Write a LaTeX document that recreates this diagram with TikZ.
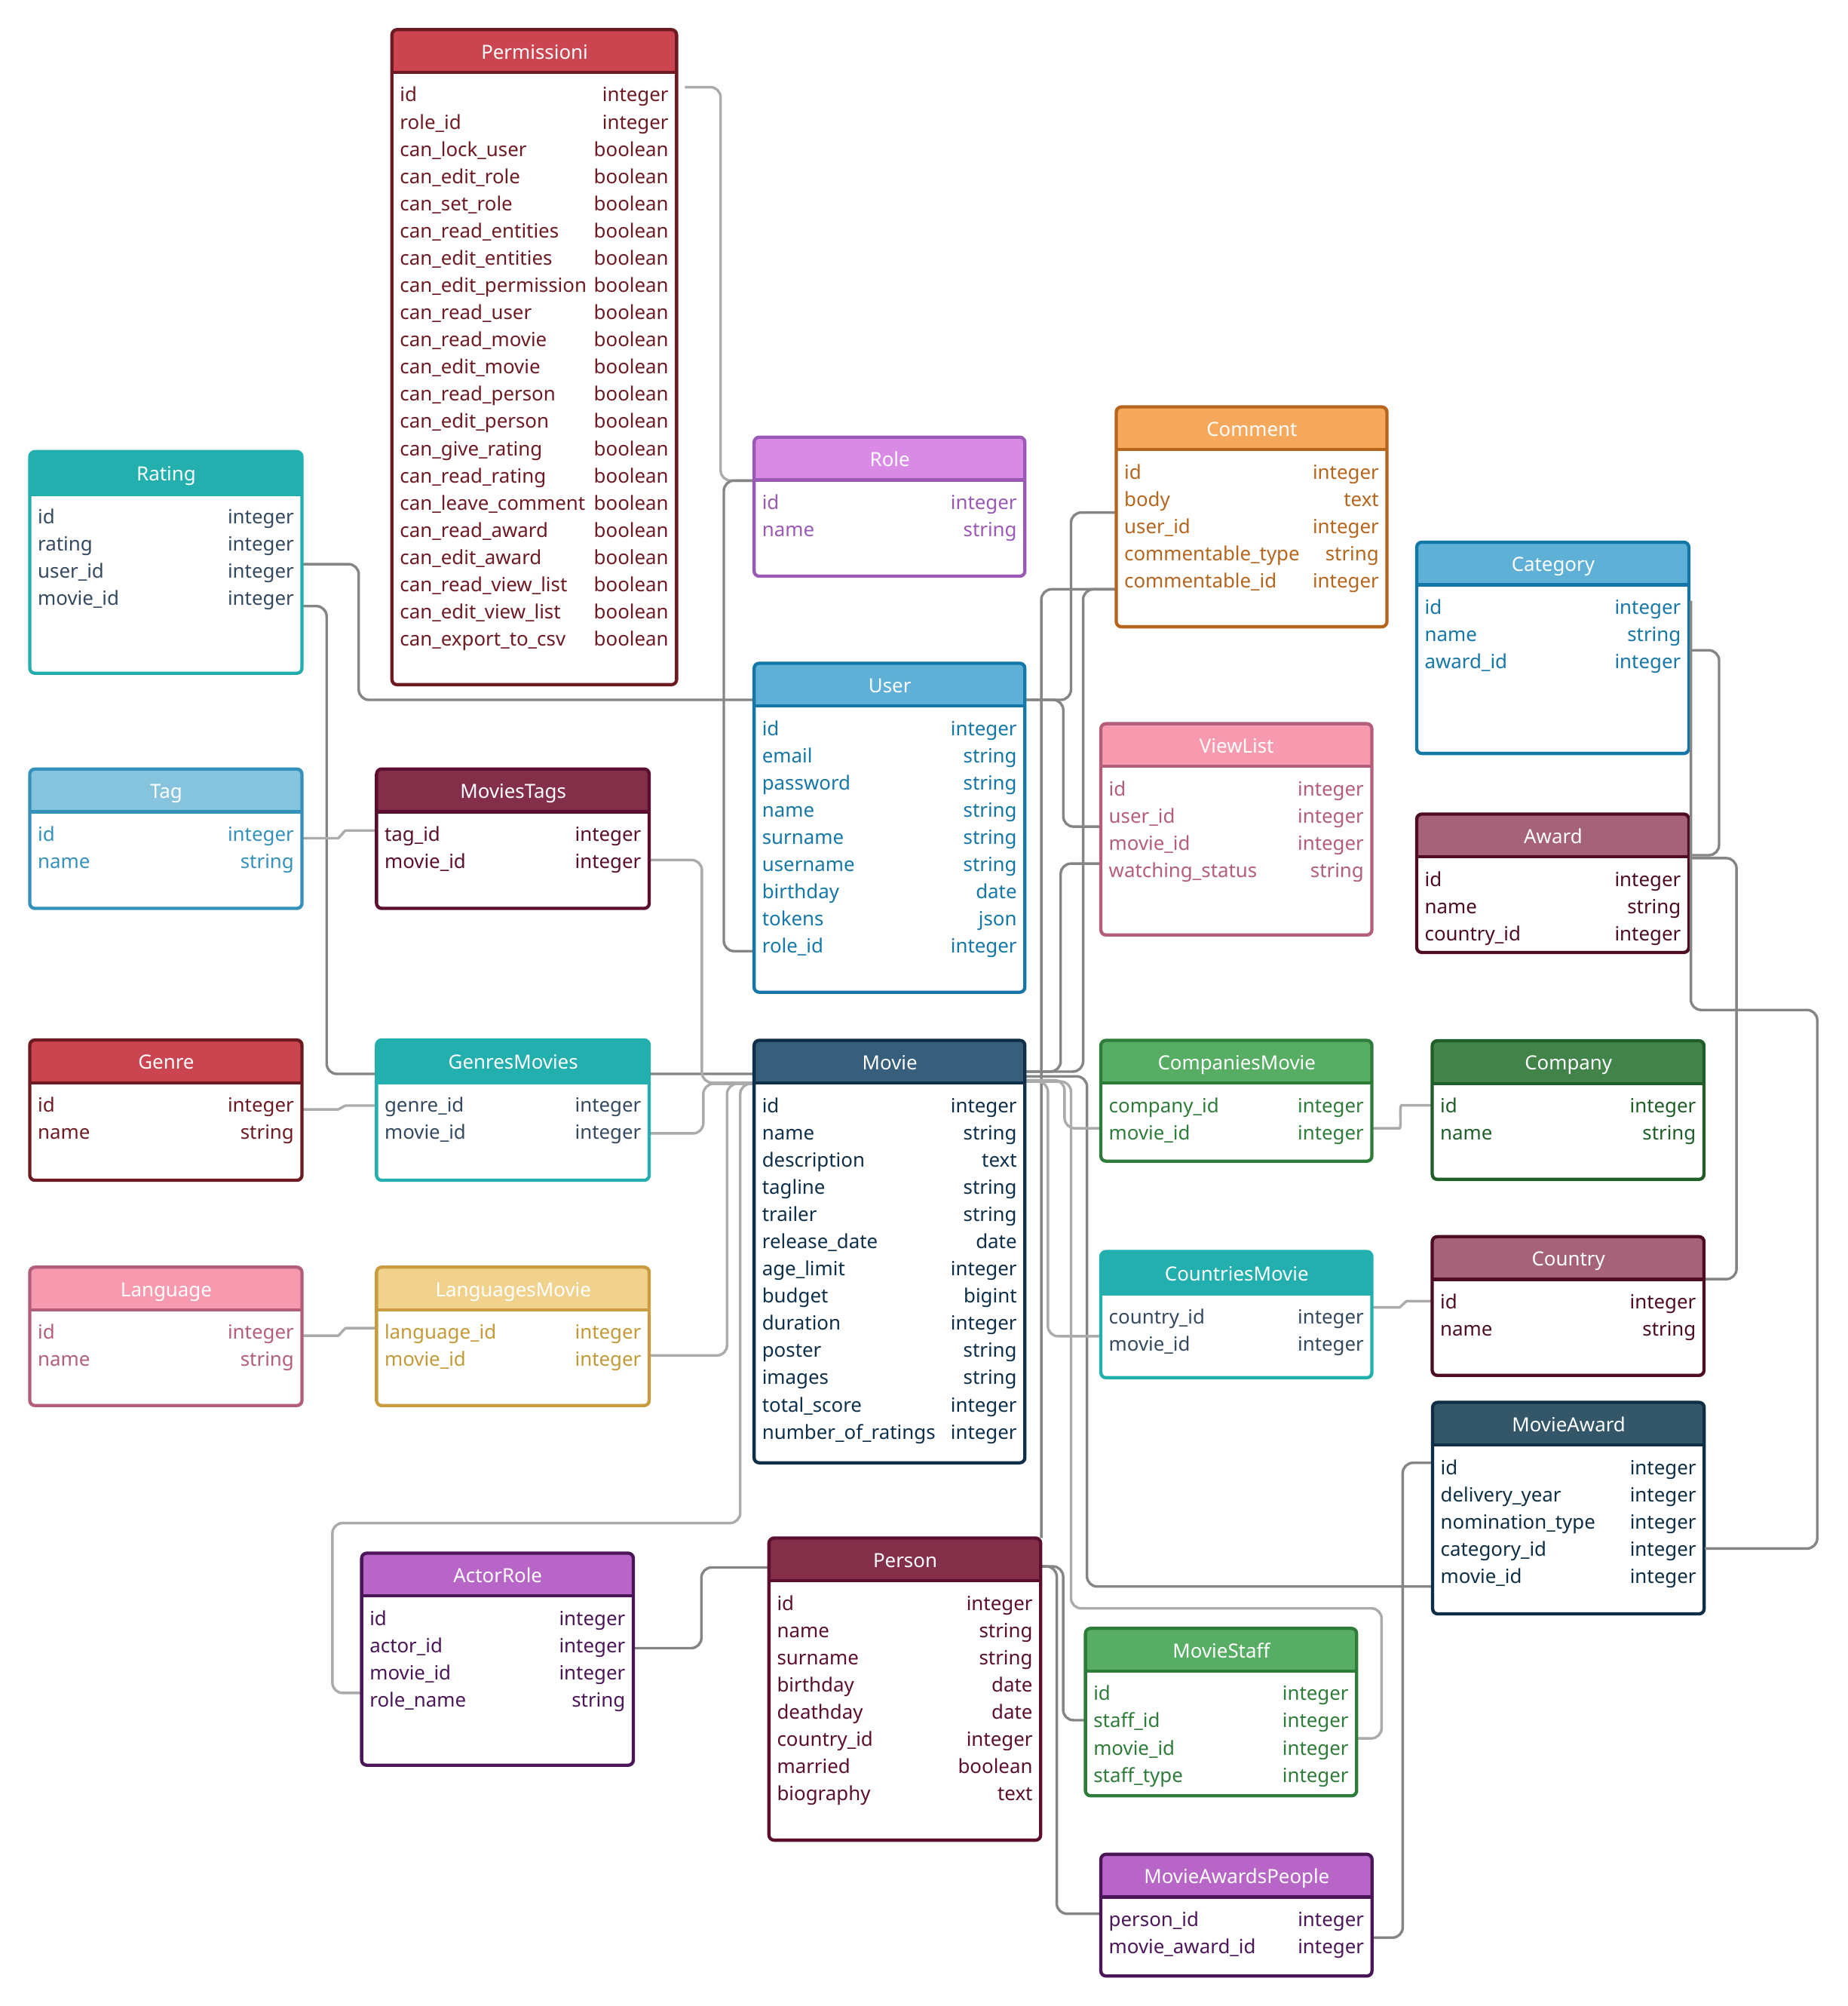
\documentclass[tikz,border=0pt]{standalone}
\usepackage{fontspec}
\setmainfont{Noto Sans}
\usetikzlibrary{calc,backgrounds}
% colour sets: h = header, b = border, t = text
\definecolor{redh}{HTML}{CB4551}\definecolor{redb}{HTML}{6E1A23}\definecolor{redt}{HTML}{6E1A23}
\definecolor{tealh}{HTML}{23AFAE}\definecolor{tealb}{HTML}{23AFAE}\definecolor{tealt}{HTML}{34495E}
\definecolor{purpleh}{HTML}{D98AE5}\definecolor{purpleb}{HTML}{9B59B6}\definecolor{purplet}{HTML}{9B59B6}
\definecolor{orangeh}{HTML}{F6A85C}\definecolor{orangeb}{HTML}{B5651D}\definecolor{oranget}{HTML}{B5651D}
\definecolor{blueh}{HTML}{5EB0D6}\definecolor{blueb}{HTML}{1577A8}\definecolor{bluet}{HTML}{1577A8}
\definecolor{lblueh}{HTML}{86C3DC}\definecolor{lblueb}{HTML}{3391BC}\definecolor{lbluet}{HTML}{3391BC}
\definecolor{pinkh}{HTML}{F79AB0}\definecolor{pinkb}{HTML}{B55E79}\definecolor{pinkt}{HTML}{B55E79}
\definecolor{maroonh}{HTML}{842F49}\definecolor{maroonb}{HTML}{5B0E2D}\definecolor{maroont}{HTML}{5B0E2D}
\definecolor{mauveh}{HTML}{A56278}\definecolor{mauveb}{HTML}{4D0C22}\definecolor{mauvet}{HTML}{4D0C22}
\definecolor{navyh}{HTML}{375F7B}\definecolor{navyb}{HTML}{0D2F4A}\definecolor{navyt}{HTML}{0D2F4A}
\definecolor{greenh}{HTML}{57AD64}\definecolor{greenb}{HTML}{2E7C39}\definecolor{greent}{HTML}{2E7C39}
\definecolor{dgreenh}{HTML}{42834A}\definecolor{dgreenb}{HTML}{1F5E28}\definecolor{dgreent}{HTML}{1F5E28}
\definecolor{yellowh}{HTML}{F0D28D}\definecolor{yellowb}{HTML}{C99C3F}\definecolor{yellowt}{HTML}{C39A37}
\definecolor{slateh}{HTML}{335668}\definecolor{slateb}{HTML}{0D2E44}\definecolor{slatet}{HTML}{0D2E44}
\definecolor{violeth}{HTML}{B865C8}\definecolor{violetb}{HTML}{4A1657}\definecolor{violett}{HTML}{4A1657}
\definecolor{connD}{HTML}{858585}
\definecolor{connL}{HTML}{ABABAB}
\newcommand{\tfont}{\fontsize{11.4pt}{13.7pt}\selectfont}
% #1 name, #2 x, #3 y, #4 width, #5 height, #6 colour set, #7 title, #8 rows
\newcommand{\erdtable}[8]{%
  \pgfmathsetmacro\erdmw{#4*0.75}%
  \pgfmathsetmacro\erdmh{#5*0.75}%
  \pgfmathsetmacro\erdtw{(#4-12)*0.75}%
  \fill[white,rounded corners=3pt] (#2,#3) rectangle ++(#4,#5);
  \fill[#6h,rounded corners=3pt] (#2,#3) rectangle ++(#4,33.3);
  \fill[#6h] (#2,{#3+16}) rectangle ++(#4,17.3);
  \draw[#6b,line width=1.9pt] (#2,{#3+33.3}) -- ++(#4,0);
  \draw[#6b,line width=1.9pt,rounded corners=3pt] (#2,#3) rectangle ++(#4,#5);
  \node[tbox,minimum width=\erdmw pt,minimum height=\erdmh pt] (#1) at (#2,#3) {};
  \node[thead,minimum width=\erdmw pt] (#1-h) at (#2,#3) {#7};
  \foreach \fld/\typ [count=\i from 0] in {#8}{%
    \node[trow,text=#6t,text width=\erdtw pt] (#1-\fld) at (#2,{#3+50.3+21.2*\i}) {\fld};
    \node[ttype,text=#6t] (#1-\fld-t) at ({#2+#4},{#3+50.3+21.2*\i}) {\typ};
  }%
}
\begin{document}
\catcode`\_=12
\begin{tikzpicture}[x=0.75pt,y=-0.75pt,
  tbox/.style={anchor=north west,inner sep=0pt,draw=none},
  thead/.style={anchor=north west,inner sep=0pt,minimum height=24.975pt,text=white,font=\tfont,text height=9.9pt,text depth=1.1pt},
  trow/.style={anchor=west,inner xsep=4.5pt,inner ysep=0pt,align=left,font=\tfont,text height=9.9pt,text depth=1.1pt},
  ttype/.style={anchor=east,inner xsep=4.5pt,inner ysep=0pt,font=\tfont,text height=9.9pt,text depth=1.1pt},
  dconn/.style={draw=connD,line width=1.5pt,rounded corners=6pt},
  lconn/.style={draw=connL,line width=1.5pt,rounded corners=6pt}]
\useasboundingbox (0,0) rectangle (1440,1562.8);

\erdtable{perm}{305.4}{23.1}{221.8}{510.3}{red}{Permissioni}{id/integer,role_id/integer,can_lock_user/boolean,can_edit_role/boolean,can_set_role/boolean,can_read_entities/boolean,can_edit_entities/boolean,can_edit_permission/boolean,can_read_user/boolean,can_read_movie/boolean,can_edit_movie/boolean,can_read_person/boolean,can_edit_person/boolean,can_give_rating/boolean,can_read_rating/boolean,can_leave_comment/boolean,can_read_award/boolean,can_edit_award/boolean,can_read_view_list/boolean,can_edit_view_list/boolean,can_export_to_csv/boolean}
\erdtable{rating}{23.2}{351.8}{212.1}{172.7}{teal}{Rating}{id/integer,rating/integer,user_id/integer,movie_id/integer}
\erdtable{role}{587.6}{340.6}{211}{108.3}{purple}{Role}{id/integer,name/string}
\erdtable{comment}{869.8}{317}{210.9}{171.3}{orange}{Comment}{id/integer,body/text,user_id/integer,commentable_type/string,commentable_id/integer}
\erdtable{user}{587.6}{516.7}{211}{256.3}{blue}{User}{id/integer,email/string,password/string,name/string,surname/string,username/string,birthday/date,tokens/json,role_id/integer}
\erdtable{category}{1103.9}{422.4}{212.1}{164.6}{blue}{Category}{id/integer,name/string,award_id/integer}
\erdtable{viewlist}{857.8}{563.8}{211.2}{164.6}{pink}{ViewList}{id/integer,user_id/integer,movie_id/integer,watching_status/string}
\erdtable{tag}{23.2}{599.1}{212.1}{108.6}{lblue}{Tag}{id/integer,name/string}
\erdtable{moviestags}{293.4}{599.1}{212.5}{108.6}{maroon}{MoviesTags}{tag_id/integer,movie_id/integer}
\erdtable{award}{1103.9}{634.2}{212.1}{107.8}{mauve}{Award}{id/integer,name/string,country_id/integer}
\erdtable{genre}{23.2}{810.2}{212.1}{109.3}{red}{Genre}{id/integer,name/string}
\erdtable{genresmovies}{293.4}{810.2}{212.5}{109.3}{teal}{GenresMovies}{genre_id/integer,movie_id/integer}
\erdtable{movie}{587.6}{810.5}{211}{329.1}{navy}{Movie}{id/integer,name/string,description/text,tagline/string,trailer/string,release_date/date,age_limit/integer,budget/bigint,duration/integer,poster/string,images/string,total_score/integer,number_of_ratings/integer}
\erdtable{companiesmovie}{857.8}{810.5}{211.2}{94.1}{green}{CompaniesMovie}{company_id/integer,movie_id/integer}
\erdtable{company}{1116}{810.8}{211.8}{108}{dgreen}{Company}{id/integer,name/string}
\erdtable{countriesmovie}{857.8}{975}{211.2}{98.3}{teal}{CountriesMovie}{country_id/integer,movie_id/integer}
\erdtable{country}{1116}{963.4}{211.8}{108.1}{mauve}{Country}{id/integer,name/string}
\erdtable{language}{23.2}{987.2}{212.1}{107.8}{pink}{Language}{id/integer,name/string}
\erdtable{languagesmovie}{293.4}{987.2}{212.5}{107.8}{yellow}{LanguagesMovie}{language_id/integer,movie_id/integer}
\erdtable{movieaward}{1116.3}{1092.5}{211.6}{164.8}{slate}{MovieAward}{id/integer,delivery_year/integer,nomination_type/integer,category_id/integer,movie_id/integer}
\erdtable{actorrole}{281.8}{1210}{211.7}{165.2}{violet}{ActorRole}{id/integer,actor_id/integer,movie_id/integer,role_name/string}
\erdtable{person}{599.2}{1198.2}{211.7}{235.4}{maroon}{Person}{id/integer,name/string,surname/string,birthday/date,deathday/date,country_id/integer,married/boolean,biography/text}
\erdtable{moviestaff}{845.8}{1268.6}{211.3}{130.4}{green}{MovieStaff}{id/integer,staff_id/integer,movie_id/integer,staff_type/integer}
\erdtable{map}{857.8}{1444.6}{211.3}{94.8}{violet}{MovieAwardsPeople}{person_id/integer,movie_award_id/integer}

\begin{pgfonlayer}{background}
\fill[white] (0,0) rectangle (1440,1562.8);
\draw[lconn] ($(perm-id.east)+(6,-5.5)$) -- ++(27.8,0) |- (role-h.south west);
\draw[dconn] ($(user-role_id.west)+(0,4.4)$) -- ++(-23.6,0) |- (role-h.south west);
\draw[dconn] ($(rating-user_id.east)+(0,-5)$) -- ++(43.7,0) |- ($(user-h.south west)+(0,-5.3)$);
\draw[dconn] ($(rating-movie_id.east)+(0,6.5)$) -- ++(18.7,0) |- ($(movie-h.south west)+(0,-7.7)$);
\draw[lconn] ($(tag-id.east)+(0,3.6)$) -- ++(19.5,0) to[out=0,in=180] ($(moviestags-tag_id.west)+(-16,-2.4)$) -- ($(moviestags-tag_id.west)+(0,-2.4)$);
\draw[lconn] ($(moviestags-movie_id.east)+(0,-0.6)$) -- ++(40.5,0) |- ($(movie-h.south west)+(0,-0.8)$);
\draw[lconn] ($(genre-id.east)+(0,3.8)$) -- ++(19.5,0) to[out=0,in=180] ($(genresmovies-genre_id.west)+(-16,0.8)$) -- ($(genresmovies-genre_id.west)+(0,0.8)$);
\draw[lconn] ($(genresmovies-movie_id.east)+(0,1.3)$) -- ++(41.6,0) |- (movie-h.south west);
\draw[lconn] ($(language-id.east)+(0,3.1)$) -- ++(19.5,0) to[out=0,in=180] ($(languagesmovie-language_id.west)+(-16,-2.8)$) -- ($(languagesmovie-language_id.west)+(0,-2.8)$);
\draw[lconn] ($(languagesmovie-movie_id.east)+(0,-2.7)$) -- ++(60.1,0) |- (movie-h.south west);
\draw[lconn] ($(actorrole-role_name.west)+(0,-5)$) -- ++(-22.8,0) |- ($(movie-h.south west)+(-10.8,342.2)$) |- (movie-h.south west);
\draw[dconn] ($(actorrole-actor_id.east)+(0,2.5)$) -- ++(52.5,0) |- ($(person-h.west)+(0,6)$);
\draw[dconn] ($(user-h.south east)+(0,-5.3)$) -- ++(35.4,0) |- ($(comment-user_id.west)+(0,-10.4)$);
\draw[dconn] ($(user-h.south east)+(0,-5.3)$) -- ++(29.4,0) |- ($(viewlist-user_id.west)+(0,8.7)$);
\draw[dconn] ($(viewlist-movie_id.west)+(0,16.3)$) -- ++(-31.3,0) |- ($(movie-h.south east)+(0,-9.5)$);
\draw[dconn] ($(comment-commentable_id.west)+(0,7)$) -| (person.north east);
\draw[dconn] ($(comment-commentable_id.west)+(0,7)$) -- ++(-25.8,0) |- ($(movie-h.south east)+(0,-9.5)$);
\draw[dconn] ($(movieaward-movie_id.west)+(0,8.4)$) -- ++(-269.3,0) |- ($(movie-h.south east)+(0,-5.8)$);
\draw[lconn] ($(movie-h.south east)+(0,-2.8)$) -- ++(30.4,0) |- ($(companiesmovie-movie_id.west)+(0,-3)$);
\draw[lconn] ($(movie-h.south east)+(0,-1.8)$) -- ++(17.4,0) |- ($(countriesmovie-movie_id.west)+(0,-5.5)$);
\draw[lconn] ($(movie-h.south east)+(0,-1.8)$) -- ++(35.4,0) |- ($(moviestaff-movie_id.east)+(18.9,-108.3)$) |- ($(moviestaff-movie_id.east)+(0,-7)$);
\draw[lconn] ($(companiesmovie-movie_id.east)+(0,-3)$) -- ++(13,0) to[out=0,in=180] ($(company-id.west)+(-16,0)$) -- (company-id.west);
\draw[lconn] ($(countriesmovie-country_id.east)+(0,-6.8)$) -- ++(13,0) to[out=0,in=180] ($(country-id.west)+(-12,0)$) -- (country-id.west);
\draw[dconn] ($(category-award_id.east)+(0,-8.5)$) -- ++(23,0) |- ($(award-h.south east)+(0,-1.8)$);
\draw[dconn] ($(award-h.south east)+(0,0.5)$) -- ++(36.6,0) |- ($(country-h.south east)+(0,-0.7)$);
\draw[dconn] ($(map-movie_award_id.east)+(0,-6.6)$) -- ++(23.4,0) |- ($(movieaward-id.west)+(0,-3.2)$);
\draw[dconn] ($(person-h.east)+(0,5.2)$) -- ++(12,0) |- ($(map-person_id.west)+(0,-4)$);
\draw[dconn] ($(person-h.east)+(0,5.2)$) -- ++(17,0) |- (moviestaff-staff_id.west);
\end{pgfonlayer}
\draw[dconn] ($(category-id.east)+(1,-4.7)$) |- ($(movieaward-category_id.east)+(87.6,-419.6)$) |- (movieaward-category_id.east);
\end{tikzpicture}
\end{document}
